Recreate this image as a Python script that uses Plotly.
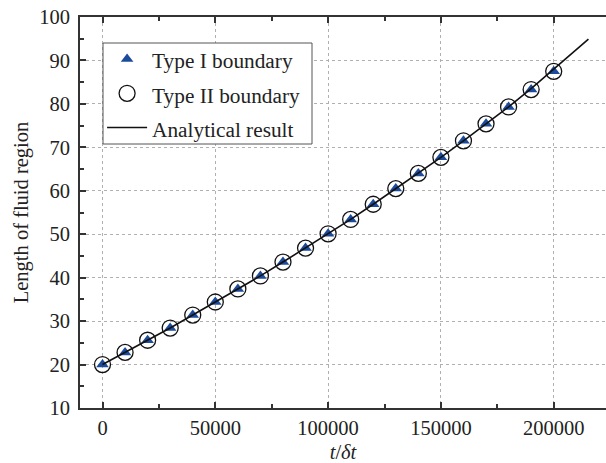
import plotly.graph_objects as go

t_steps = [0, 10000, 20000, 30000, 40000, 50000, 60000, 70000, 80000, 90000, 100000,
           110000, 120000, 130000, 140000, 150000, 160000, 170000, 180000, 190000, 200000]
type1_len = [20.0, 22.8, 25.6, 28.4, 31.4, 34.4, 37.4, 40.4, 43.6, 46.8, 50.1,
             53.4, 56.9, 60.5, 64.0, 67.7, 71.5, 75.4, 79.3, 83.3, 87.5]
type2_len = [20.0, 22.8, 25.6, 28.4, 31.4, 34.4, 37.4, 40.4, 43.6, 46.8, 50.1,
             53.4, 56.9, 60.5, 64.0, 67.7, 71.5, 75.4, 79.3, 83.3, 87.5]
anal_t = [0, 10000, 20000, 30000, 40000, 50000, 60000, 70000, 80000, 90000, 100000,
          110000, 120000, 130000, 140000, 150000, 160000, 170000, 180000, 190000, 200000,
          210000, 215400]
anal_len = [20.0, 22.8, 25.6, 28.4, 31.4, 34.4, 37.4, 40.4, 43.6, 46.8, 50.1,
            53.4, 56.9, 60.5, 64.0, 67.7, 71.5, 75.4, 79.3, 83.5, 87.9,
            92.4, 94.9]

FONT = "Liberation Serif, Times New Roman, serif"
AX = "#333333"
FS = 20.5
TXT = "#222222"


def leg(s):
    return '<span style="font-size:21.3px">%s</span>' % s


fig = go.Figure()
fig.add_trace(go.Scatter(x=t_steps, y=type1_len, mode="markers", name=leg("Type I boundary"),
                         marker=dict(symbol="triangle-up", size=11, color="#1c4b9c",
                                     line=dict(width=0))))
fig.add_trace(go.Scatter(x=t_steps, y=type2_len, mode="markers", name=leg("Type II boundary"),
                         marker=dict(symbol="circle-open", size=16, color="#111111",
                                     line=dict(width=1.3))))
fig.add_trace(go.Scatter(x=anal_t, y=anal_len, mode="lines", name=leg("Analytical result"),
                         line=dict(color="#111111", width=1.6)))

axis_common = dict(showline=True, linecolor=AX, linewidth=2,
                   ticks="inside", tickcolor=AX, tickwidth=1.5, ticklen=6,
                   showgrid=True, gridcolor="#b0b0b0", griddash="dot", gridwidth=1,
                   zeroline=False, tickfont=dict(family=FONT, size=FS, color=TXT))

fig.update_xaxes(range=[-9973, 223183], tickvals=[0, 50000, 100000, 150000, 200000],
                 ticktext=["0", "50000", "100000", "150000", "200000"], mirror="ticks",
                 minor=dict(tickvals=[25000, 75000, 125000, 175000], ticks="inside",
                            ticklen=4, tickcolor=AX, tickwidth=1.5, showgrid=False),
                 title=dict(text="<i>t</i>/<i>δt</i>", font=dict(family=FONT, size=FS, color=TXT),
                            standoff=8),
                 **axis_common)
fig.update_yaxes(range=[10, 100], tickvals=[10, 20, 30, 40, 50, 60, 70, 80, 90, 100],
                 mirror=False, ticklabelstandoff=4,
                 minor=dict(tickvals=[15, 25, 35, 45, 55, 65, 75, 85, 95], ticks="inside",
                            ticklen=4, tickcolor=AX, tickwidth=1.5, showgrid=False),
                 title=dict(text="Length of fluid region", font=dict(family=FONT, size=FS, color=TXT),
                            standoff=5),
                 **axis_common)

# legend frame (white box covering the grid)
fig.add_shape(type="rect", xref="paper", yref="paper", layer="above",
              x0=(103 - 80) / 526, x1=(312 - 80) / 526,
              y0=(408 - 144) / 391, y1=(408 - 43) / 391,
              fillcolor="white", line=dict(color="#555555", width=1))

fig.update_layout(width=606, height=463, margin=dict(l=80, r=0, t=17, b=55),
                  plot_bgcolor="white", paper_bgcolor="white",
                  font=dict(family=FONT, size=FS, color=TXT),
                  showlegend=True,
                  legend=dict(x=0.042, y=0.9488, xanchor="left", yanchor="top",
                              bgcolor="rgba(0,0,0,0)", borderwidth=0,
                              font=dict(family=FONT, size=24, color=TXT),
                              tracegroupgap=0, itemwidth=40))

fig.write_html("out.html")
